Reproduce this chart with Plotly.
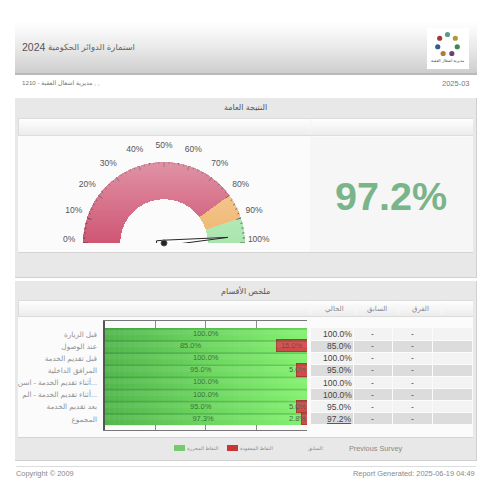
import numpy as np
import plotly.graph_objects as go

# ---- data ----
report_name = "استمارة الدوائر الحكومية"
report_year = "2024"
org_line = "\u200f, , مديرية اشغال العقبة - 1210"
report_period = "2025-03"
overall_title = "النتيجة العامة"
summary_title = "ملخص الأقسام"
overall_score = 97.2
overall_text = "97.2%"

band_start = [0, 80, 90]
band_end = [80, 90, 100]
band_colors = ["#CF5573", "#EFB56E", "#A9E6AE"]
gauge_ticks = [0, 10, 20, 30, 40, 50, 60, 70, 80, 90, 100]

categories = [
    "قبل الزيارة",
    "عند الوصول",
    "قبل تقديم الخدمة",
    "المرافق الداخلية",
    "أثناء تقديم الخدمة - اسن...",
    "أثناء تقديم الخدمة - الم...",
    "بعد تقديم الخدمة",
    "المجموع",
]
earned = [100.0, 85.0, 100.0, 95.0, 100.0, 100.0, 95.0, 97.3]
lost = [0.0, 15.0, 0.0, 5.0, 0.0, 0.0, 5.0, 2.8]
current_col = ["100.0%", "85.0%", "100.0%", "95.0%", "100.0%", "100.0%", "95.0%", "<u>97.2%</u>"]
previous_col = ["-"] * 8
diff_col = ["-"] * 8
col_headers = ["الحالي", "السابق", "الفرق"]
legend_earned = "النقاط المحرزة"
legend_lost = "النقاط المفقودة"
legend_prev = "السابق:"
prev_name = "Previous Survey"
copyright_text = "Copyright © 2009"
generated_text = "Report Generated: 2025-06-19 04:49"

FONT = "Liberation Sans, Arial, DejaVu Sans, sans-serif"
shapes, notes = [], []


def rect(x0, y0, x1, y1, fill, line=None, layer="below", kind="rect"):
    shapes.append(dict(type=kind, xref="paper", yref="paper", x0=x0 / 500, x1=x1 / 500,
                       y0=1 - y0 / 500, y1=1 - y1 / 500, fillcolor=fill, layer=layer,
                       line=dict(width=1 if line else 0, color=line or "rgba(0,0,0,0)")))


def label(x, y, text, size=9, color="#555", anchor="center", bold=False):
    shift = {"left": -1, "right": 1, "center": 0}[anchor]
    notes.append(dict(xref="paper", yref="paper", x=(x + shift) / 500, y=1 - y / 500, text=text, showarrow=False,
                      xanchor=anchor, yanchor="middle", align=anchor, borderpad=0,
                      font=dict(size=size, color=color, family=FONT, weight="bold" if bold else "normal")))


def mix(a, b, t):
    return "rgb(%d,%d,%d)" % tuple(round(p + (q - p) * t) for p, q in zip(a, b))


# ---- header ----
for y in range(20, 73):
    rect(15, y, 477, y + 1, mix((255, 255, 255), (205, 205, 205), ((y - 20) / 53) ** 1.2))
rect(15, 73, 477, 75, "#b9b9b9")
rect(427, 28, 469, 69, "#ffffff")
logo_colors = ["#5A9C8C", "#AD9A3C", "#3F8A4A", "#6A3F80", "#B87A30", "#2F5F8A", "#A03A3A"]
for i, c in enumerate(logo_colors):
    a = np.radians(90 - i * 360 / 7)
    cx, cy = 447.5 + 10 * np.cos(a), 44.5 - 10 * np.sin(a)
    rect(cx - 2.6, cy - 2.6, cx + 2.6, cy + 2.6, c, kind="circle")
label(447.5, 60, "مديرية اشغال العقبة", size=4, color="#444")
label(22, 47.5, report_year, size=10.5, color="#555", anchor="left")
label(48, 47.5, report_name, size=8.5, color="#666", anchor="left")
label(22, 83, org_line, size=6.2, color="#777", anchor="left")
label(470, 83, report_period, size=7.5, color="#777", anchor="right")


# ---- panels ----
def panel(top, bottom, strip_top, strip_bottom, content_bottom, title):
    rect(15, top, 477, bottom, "#d0d0d0")
    rect(15, top, 476, bottom - 1, "#e8e8e8")
    rect(18, strip_top - 1, 473, strip_bottom + 1, "#dcdcdc")
    for y in range(strip_top, strip_bottom):
        rect(19, y, 473, y + 1, mix((253, 253, 253), (236, 236, 236), (y - strip_top) / (strip_bottom - strip_top)))
    rect(18, strip_bottom + 1, 473, content_bottom, "#fbfbfb")
    rect(18, content_bottom, 473, content_bottom + 1, "#d4d4d4")
    label(245.5, top + 10, title, size=8, color="#555")


panel(98, 278, 119, 135, 252, overall_title)
panel(281, 461, 301, 316, 437, summary_title)
rect(310, 137, 473, 252, "#f6f6f6")
rect(310, 119, 311, 135, "#f4f4f4")
label(390.5, 196, overall_text, size=39.5, color="#7AB489", bold=True)

# ---- table on the right ----
row_ys = [334 + 12.14 * i for i in range(8)]
col_edges = [(311, 353), (354, 392), (393, 432), (433, 472)]
for i, yc in enumerate(row_ys):
    fill = "#f3f3f3" if i % 2 == 0 else "#dcdcdc"
    for x0, x1 in col_edges:
        rect(x0, round(yc - 5.5), x1, round(yc + 5.5), fill)
    label(352, yc, current_col[i], size=8.5, color="#444", anchor="right")
    label(372, yc, previous_col[i], size=8.5, color="#555")
    label(412, yc, diff_col[i], size=8.5, color="#555")
for x in (310, 356, 398, 441):
    rect(x, 302, x + 1, 315, "#f8f8f8")
for x, t in zip((334, 377, 420), col_headers):
    label(x, 309, t, size=7, color="#8a8a8a")

# ---- legend and footer ----
rect(174, 445, 185, 451, "#76C96F")
label(187, 448, legend_earned, size=5, color="#888", anchor="left")
rect(227, 445, 238, 451, "#C93434")
label(240, 448, legend_lost, size=5, color="#888", anchor="left")
label(316, 448, legend_prev, size=5, color="#888")
label(375, 448, prev_name, size=7.3, color="#888")
rect(16, 466, 476, 467, "#dddddd")
label(16, 473, copyright_text, size=7.4, color="#888", anchor="left")
label(474.5, 473, generated_text, size=7.4, color="#888", anchor="right")

fig = go.Figure()

# ---- stacked bars ----
fig.add_bar(y=categories, x=earned, orientation="h", marker=dict(color="#84F170", line_width=0), showlegend=False)
fig.add_bar(y=categories, x=lost, orientation="h",
            marker=dict(color="#D24C4C", line=dict(color="#B03A3A", width=1)), showlegend=False)
# bar value labels
g_text = ["%.1f%%" % v for v in earned]
fig.add_scatter(y=categories, x=[v / 2 for v in earned], text=g_text, mode="text",
                textposition="middle center", textfont=dict(size=7.5, color="#2D6B2D", family=FONT),
                showlegend=False, hoverinfo="skip")
r_idx = [i for i, v in enumerate(lost) if v > 0]
fig.add_scatter(y=[categories[i] for i in r_idx],
                x=[100 - lost[i] / 2 if lost[i] > 10 else 99.5 for i in r_idx],
                text=["%.1f%%" % lost[i] for i in r_idx], mode="text",
                textposition=["middle center" if lost[i] > 10 else "middle left" for i in r_idx],
                textfont=dict(size=7.5, color=["#9A2F2F" if lost[i] > 10 else "#3C5F3A" for i in r_idx], family=FONT),
                showlegend=False, hoverinfo="skip")
# horizontal shading of the bars
n_strips = 41
for k in range(n_strips):
    x0, x1 = 100 * k / n_strips, 100 * (k + 1) / n_strips
    alpha = 0.5 * (1 - (k + 0.5) / n_strips) ** 1.1
    shapes.append(dict(type="rect", xref="x", yref="y", x0=x0, x1=x1, y0=-0.5, y1=7.5, layer="above",
                       fillcolor="rgba(31,122,42,%.3f)" % alpha, line_width=0))
# darker band at the top of each bar
for i in range(8):
    shapes.append(dict(type="rect", xref="x", yref="y", x0=0, x1=100, y0=i - 0.5, y1=i - 0.36, layer="above",
                       fillcolor="rgba(20,90,30,0.22)", line_width=0))
    shapes.append(dict(type="rect", xref="x", yref="y", x0=0, x1=100, y0=i - 0.36, y1=i + 0.1, layer="above",
                       fillcolor="rgba(255,255,255,0.06)", line_width=0))

# ---- gauge ----
R_MAX = 1.25
OUTER_PX = 81
fig.add_barpolar(theta=[(a + b) / 2 * 1.8 for a, b in zip(band_start, band_end)],
                 width=[(b - a) * 1.8 for a, b in zip(band_start, band_end)],
                 r=[0.46] * 3, base=[0.54] * 3, marker=dict(color=band_colors, line_width=0),
                 subplot="polar", showlegend=False, hoverinfo="skip")
tick_r, tick_t = [], []
for p in range(0, 101, 2):
    tick_r += [0.94 if p % 10 == 0 else 0.975, 1.0, None]
    tick_t += [p * 1.8, p * 1.8, None]
fig.add_scatterpolar(r=tick_r, theta=tick_t, mode="lines", line=dict(color="#333", width=0.8), connectgaps=False,
                     subplot="polar", showlegend=False, hoverinfo="skip", cliponaxis=False)
# tick labels, lifted slightly above their spokes
alpha = np.radians([p * 1.8 for p in gauge_ticks])
lab_x = -1.17 * np.cos(alpha)
lab_y = 1.17 * np.sin(alpha) + 0.035
fig.add_scatterpolar(r=np.hypot(lab_x, lab_y), theta=np.degrees(np.arctan2(lab_y, -lab_x)), mode="text",
                     text=["%d%%" % p for p in gauge_ticks], textposition="middle center",
                     textfont=dict(size=8.5, color="#555", family=FONT),
                     subplot="polar", showlegend=False, hoverinfo="skip", cliponaxis=False)
th = overall_score * 1.8
local = np.array([(0.79, 0), (0, 0.035), (-0.09, 0.035), (-0.09, -0.035), (0, -0.035), (0.79, 0)])
needle_r = np.hypot(local[:, 0], local[:, 1])
needle_t = th + np.degrees(np.arctan2(local[:, 1], local[:, 0]))
fig.add_scatterpolar(r=needle_r, theta=needle_t, mode="lines", fill="toself", fillcolor="#ffffff",
                     line=dict(color="#222", width=1), subplot="polar", showlegend=False,
                     hoverinfo="skip", cliponaxis=False)
fig.add_scatterpolar(r=[0], theta=[0], mode="markers", marker=dict(size=6, color="#222", line=dict(color="#555", width=1)),
                     subplot="polar", showlegend=False, hoverinfo="skip", cliponaxis=False)
# vertical light sheen over the gauge, only across the dial
for y in range(162, 244, 2):
    a = 0.36 * (243 - y) / 81
    half = np.sqrt(max(OUTER_PX ** 2 - (243 - y - 1) ** 2, 0)) + 1
    rect(164 - half, y, 164 + half, y + 2, "rgba(255,255,255,%.3f)" % a, layer="above")

px = OUTER_PX * R_MAX
fig.update_layout(
    width=500, height=500, margin=dict(l=0, r=0, t=0, b=0, pad=0), paper_bgcolor="#ffffff", plot_bgcolor="#fdfdfd",
    barmode="stack", bargap=0, font=dict(family=FONT), shapes=shapes, annotations=notes,
    xaxis=dict(domain=[104.5 / 500, 307 / 500], range=[0, 100], tickvals=[0, 25, 50, 75, 100], showticklabels=False,
               showgrid=True, gridcolor="#8a8a8a", gridwidth=1, zeroline=False, showline=True, linecolor="#777",
               linewidth=1, mirror=True, ticks=""),
    yaxis=dict(domain=[1 - 430 / 500, 1 - 321 / 500], type="category", categoryorder="array", categoryarray=categories,
               range=[7.9, -1.07], showgrid=False, zeroline=False, showline=True, linecolor="#555", linewidth=2,
               ticks="outside", ticklen=4, tickcolor="rgba(0,0,0,0)",
               tickfont=dict(size=7.3, color="#929292", family=FONT)),
    polar=dict(domain=dict(x=[(164 - px) / 500, (164 + px) / 500], y=[1 - 243 / 500, 1 - (243 - px) / 500]), sector=[0, 180],
               bgcolor="rgba(0,0,0,0)",
               radialaxis=dict(visible=False, range=[0, R_MAX]),
               angularaxis=dict(thetaunit="degrees", direction="clockwise", rotation=180, showgrid=False, showline=False,
                                showticklabels=False, ticks="")),
)
fig.write_html("out.html", post_script="document.body.style.margin='0';", config=dict(displayModeBar=False))
